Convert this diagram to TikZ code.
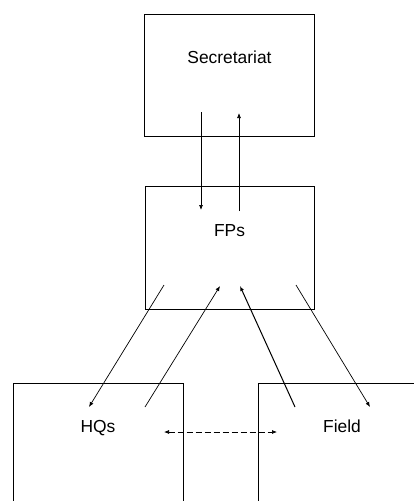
\documentclass[tikz,border=0pt]{standalone}
\usepackage{fontspec}
\setmainfont{Liberation Sans}
\usetikzlibrary{arrows.meta}
\begin{document}
\begin{tikzpicture}[x=1pt,y=-1pt,
  unitbox/.style={draw=black,line width=0.9pt,rectangle,inner sep=0pt,outer sep=0pt},
  boxtext/.style={anchor=base,inner sep=0pt,font=\fontsize{17.4}{20}\selectfont},
  flow/.style={line width=0.7pt,-{Latex[length=5pt,width=4pt]}},
  peer/.style={line width=0.7pt,dash pattern=on 6pt off 3pt,{Latex[length=5pt,width=4pt]}-{Latex[length=5pt,width=4pt]}}]
\useasboundingbox (0,0) rectangle (414,501);
\clip (0,0) rectangle (414,501);

% boxes
\node[unitbox,minimum width=170pt,minimum height=122pt] (sec) at (229,75) {};
\node[unitbox,minimum width=169pt,minimum height=123pt] (fps) at (229.5,247.5) {};
\node[unitbox,minimum width=170pt,minimum height=160pt] (hqs) at (98,463) {};
\node[unitbox,minimum width=170pt,minimum height=160pt] (field) at (343,463) {};

% labels
\node[boxtext] (secT) at (229.5,63) {Secretariat};
\node[boxtext] (fpsT) at (229.5,236) {FPs};
\node[boxtext] (hqsT) at (98,432) {HQs};
\node[boxtext] (fieldT) at (342,432) {Field};

% connector end points
\coordinate (sd) at (201,112);
\coordinate (fd) at (201,210);
\coordinate (fu) at (239,211);
\coordinate (su) at (239,113);
\coordinate (fa) at (164,285);
\coordinate (ha) at (89,407);
\coordinate (hb) at (145,407);
\coordinate (fb) at (220,286);
\coordinate (gc) at (295,407);
\coordinate (fc) at (240,286);
\coordinate (fdd) at (296,285);
\coordinate (gd) at (370,407);
\coordinate (hp) at (164,432);
\coordinate (gp) at (277,432);

% flows
\draw[flow] (sd) -- (fd);
\draw[flow] (fu) -- (su);
\draw[flow] (fa) -- (ha);
\draw[flow] (hb) -- (fb);
\draw[flow,line width=1pt] (gc) -- (fc);
\draw[flow] (fdd) -- (gd);
\draw[peer] (hp) -- (gp);
\end{tikzpicture}
\end{document}
